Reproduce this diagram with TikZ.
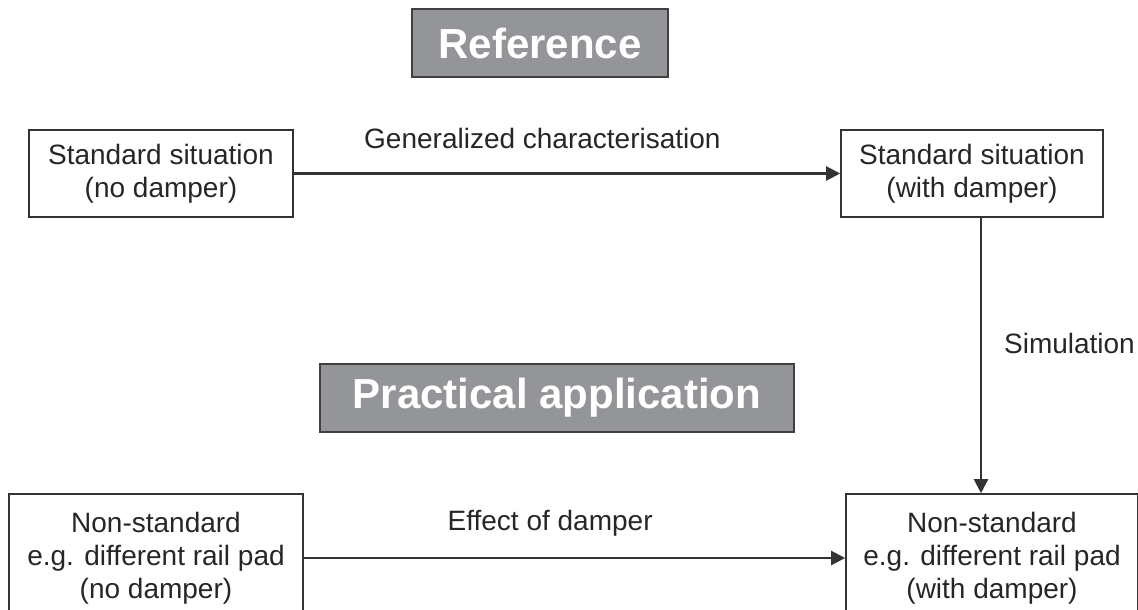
\documentclass[tikz,border=0pt]{standalone}
\usepackage{fontspec}
\setmainfont{Liberation Sans}
\usetikzlibrary{arrows.meta}
\definecolor{headgray}{HTML}{939598}
\definecolor{linegray}{HTML}{333333}

\begin{document}
\begin{tikzpicture}[x=1pt, y=-1pt,
  box/.style={draw=linegray, line width=1.6pt, inner sep=0pt, align=center,
    text=black!85, font=\fontsize{28}{33}\selectfont},
  headbox/.style={draw=black!75, fill=headgray, line width=2.4pt, inner sep=0pt,
    text=white, minimum height=68pt, font=\fontsize{42}{50}\selectfont\bfseries},
  flow/.style={draw=linegray, line width=2.2pt, -{Triangle[length=14pt,width=14pt]}},
  lbl/.style={text=black!85, font=\fontsize{28}{33}\selectfont, inner sep=0pt}]
\useasboundingbox (0,0) rectangle (1138,610);
\clip (0,0) rectangle (1138,610);

% headings
\node[headbox, minimum width=256pt] (ref) at (540,43) {Reference};
\node[headbox, minimum width=474pt] (prac) at (557,398) {Practical application};

% standard situation
\node[box, minimum width=264pt, minimum height=87pt] (sn) at (161,173.5)
  {Standard situation\\(no damper)};
\node[box, minimum width=262pt, minimum height=87pt] (sd) at (972,173.5)
  {Standard situation\\(with damper)};

% non-standard situation
\node[box, minimum width=294pt, minimum height=128pt] (nn) at (156,558)
  {Non-standard\\e.g. different rail pad\\(no damper)};
\node[box, minimum width=292pt, minimum height=128pt] (nd) at (992,558)
  {Non-standard\\e.g. different rail pad\\(with damper)};

\draw[flow] (sn) -- (sd)
  node[lbl, pos=0.455, above=24pt] {Generalized characterisation};
\draw[flow] ([xshift=9pt]sd.south) -- ([xshift=9pt]sd.south |- nd.north)
  node[lbl, pos=0.455, anchor=west, xshift=22pt] {Simulation};
\draw[flow] (nn) -- (nd)
  node[lbl, pos=0.455, above=21pt] {Effect of damper};
\end{tikzpicture}
\end{document}
